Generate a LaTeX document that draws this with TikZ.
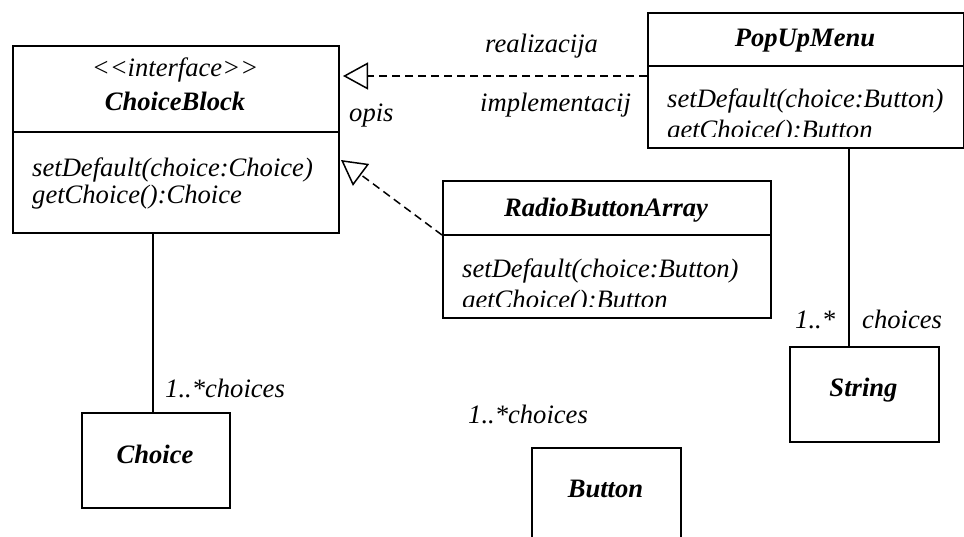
\documentclass[tikz,border=0pt]{standalone}
\usepackage{fontspec}
\setmainfont{Liberation Serif}
\usetikzlibrary{arrows.meta}
\begin{document}
\begin{tikzpicture}[x=1pt,y=-1pt,
  box/.style={draw, line width=1.6pt, inner sep=0pt, anchor=north west},
  txt/.style={inner sep=0pt, anchor=base west, font=\fontsize{26.6}{27}\selectfont\itshape},
  ctxt/.style={inner sep=0pt, anchor=base, font=\fontsize{26.6}{27}\selectfont\itshape},
  ttl/.style={inner sep=0pt, anchor=base, font=\fontsize{26.6}{27}\selectfont\bfseries\itshape},
  conn/.style={line width=1.6pt},
  real/.style={line width=1.5pt, dash pattern=on 8pt off 5pt, -{Triangle[open, length=25pt, width=27pt, fill=white]}}]
\useasboundingbox (0,0) rectangle (964,537);
\clip (0,0) rectangle (964,537);
% ChoiceBlock
\node[box, minimum width=326pt, minimum height=187pt] (cb) at (12,45) {};
\coordinate (cbd) at (0,132);
\draw[line width=1.6pt] (cb.west |- cbd) -- (cb.east |- cbd);
\node[ctxt] (cbs) at (175,77) {<{}<interface>{}>};
\node[ttl] (cbt) at (175,111) {ChoiceBlock};
\node[txt] (cbm1) at (32,177) {setDefault(choice:Choice)};
\node[txt] (cbm2) at (32,204) {getChoice():Choice};
% PopUpMenu
\node[box, minimum width=316pt, minimum height=135pt] (pop) at (647,12) {};
\coordinate (popd) at (0,66);
\draw[line width=1.6pt] (pop.west |- popd) -- (pop.east |- popd);
\node[ttl] (popt) at (805,47) {PopUpMenu};
\begin{scope}
\clip (648,67) rectangle (962,137);
\node[txt] (popm1) at (667,108) {setDefault(choice:Button)};
\node[txt] (popm2) at (667,139) {getChoice():Button};
\end{scope}
% RadioButtonArray
\node[box, minimum width=328pt, minimum height=137pt] (rba) at (442,180) {};
\coordinate (rbad) at (0,235);
\draw[line width=1.6pt] (rba.west |- rbad) -- (rba.east |- rbad);
\node[ttl] (rbat) at (606,217) {RadioButtonArray};
\begin{scope}
\clip (443,236) rectangle (769,307);
\node[txt] (rbam1) at (462,278) {setDefault(choice:Button)};
\node[txt] (rbam2) at (462,309) {getChoice():Button};
\end{scope}
% Choice
\node[box, minimum width=148pt, minimum height=95pt] (ch) at (81,412) {};
\node[ttl] (cht) at (155,463) {Choice};
% String
\node[box, minimum width=149pt, minimum height=95pt] (str) at (789,346) {};
\node[ttl] (strt) at (863.5,396) {String};
% Button
\node[box, minimum width=149pt, minimum height=110pt] (btn) at (531,447) {};
\node[ttl] (btnt) at (605.5,497) {Button};
% connectors
\coordinate (c1) at (153,0);
\draw[conn] (cb.south -| c1) -- (ch.north -| c1);
\coordinate (c2) at (849,0);
\draw[conn] (pop.south -| c2) -- (str.north -| c2);
\coordinate (r1) at (343,76);
\draw[real] (pop.west |- r1) -- (r1);
\coordinate (r2) at (341,160);
\draw[real] (rba.west |- rbad) -- (r2);
% labels
\node[txt] (l1) at (165,397) {1..*choices};
\node[txt] (l2) at (485,53) {realizacija};
\node[txt] (l3) at (480,112) {implementacij};
\node[txt] (l4) at (349,122) {opis};
\node[txt] (l5) at (795,329) {1..*};
\node[txt] (l6) at (862,329) {choices};
\node[txt] (l7) at (468,423) {1..*choices};
\end{tikzpicture}
\end{document}
